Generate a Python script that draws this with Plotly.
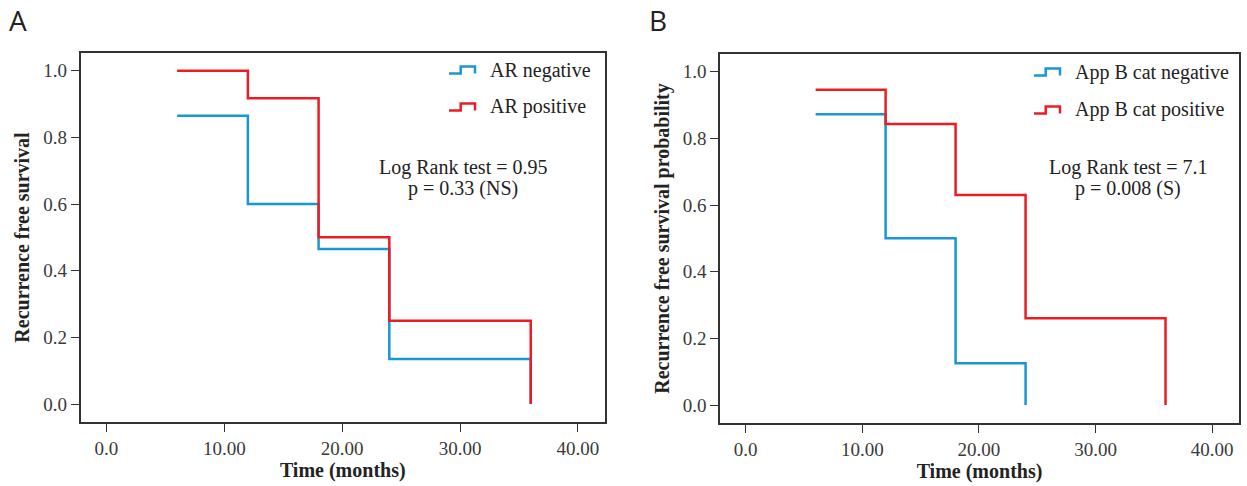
import plotly.graph_objects as go

# ---- data ----
time_a = [6, 12, 18, 24, 36]
ar_negative = [0.865, 0.600, 0.465, 0.135, 0.0]
ar_positive = [1.0, 0.917, 0.500, 0.250, 0.0]

time_b_neg = [6, 12, 18, 24]
appb_negative = [0.872, 0.500, 0.125, 0.0]
time_b_pos = [6, 12, 18, 24, 36]
appb_positive = [0.946, 0.843, 0.630, 0.260, 0.0]

x_tickvals = [0, 10, 20, 30, 40]
x_ticktext = ["0.0", "10.00", "20.00", "30.00", "40.00"]
y_tickvals = [0.0, 0.2, 0.4, 0.6, 0.8, 1.0]

BLUE = "#1a96d4"
RED = "#ed1c24"
AX = "#333333"
SERIF = "Liberation Serif"

W, H = 1247, 486
fig = go.Figure()

def add_curve(x, y, color, name, xa, ya):
    fig.add_trace(go.Scatter(x=x, y=y, mode="lines", line=dict(color=color, width=2.5, shape="hv"),
                             name=name, showlegend=False, xaxis=xa, yaxis=ya, hoverinfo="x+y+name"))

add_curve(time_a, ar_negative, BLUE, "AR negative", "x", "y")
add_curve(time_a, ar_positive, RED, "AR positive", "x", "y")
add_curve(time_b_neg, appb_negative, BLUE, "App B cat negative", "x2", "y2")
add_curve(time_b_pos, appb_positive, RED, "App B cat positive", "x2", "y2")

def px(x):
    return x / W

def py(y):
    return 1 - y / H

axis_common = dict(showline=True, mirror=True, linecolor=AX, linewidth=1.5, ticks="outside",
                   ticklen=8, tickwidth=1.2, tickcolor=AX, showgrid=False, zeroline=False,
                   tickfont=dict(family=SERIF, size=19, color="#3a3a3a"))

TITLE_FONT = dict(family=SERIF, size=20, color="#222")
xcommon = dict(axis_common, tickvals=x_tickvals, ticktext=x_ticktext, range=[-2.2, 42.3],
               title=dict(text="<b>Time (months)</b>", font=TITLE_FONT, standoff=2))
ycommon = dict(axis_common, tickvals=y_tickvals, tickformat=".1f", range=[-0.054, 1.053])

fig.update_layout(
    width=W, height=H, margin=dict(l=0, r=0, t=0, b=0),
    paper_bgcolor="white", plot_bgcolor="white",
    xaxis=dict(xcommon, domain=[px(80.5), px(605)], anchor="y"),
    yaxis=dict(ycommon, domain=[py(422), py(53)], anchor="x",
               title=dict(text="<b>Recurrence free survival</b>", font=TITLE_FONT, standoff=8)),
    xaxis2=dict(xcommon, domain=[px(720), px(1239)], anchor="y2"),
    yaxis2=dict(ycommon, domain=[py(423), py(54)], anchor="x2",
                title=dict(text="<b>Recurrence free survival probability</b>", font=TITLE_FONT, standoff=8)),
)

# custom legends with step icons
def legend_item(x0, yc, color, text):
    w, h = 26, 7
    path = (f"M {px(x0)},{py(yc + h/2)} L {px(x0 + w*0.45)},{py(yc + h/2)} L {px(x0 + w*0.45)},{py(yc - h/2)} "
            f"L {px(x0 + w)},{py(yc - h/2)} L {px(x0 + w)},{py(yc + h/2)}")
    fig.add_shape(type="path", path=path, xref="paper", yref="paper",
                  line=dict(color=color, width=2.5))
    fig.add_annotation(x=px(x0 + w + 13), y=py(yc), xref="paper", yref="paper", text=text,
                       showarrow=False, xanchor="left", yanchor="middle",
                       font=dict(family=SERIF, size=20, color="#222"))

legend_item(449, 70, BLUE, "AR negative")
legend_item(449, 107, RED, "AR positive")
legend_item(1034, 72, BLUE, "App B cat negative")
legend_item(1034, 110, RED, "App B cat positive")

def stat_text(xc, yc, text):
    fig.add_annotation(x=px(xc), y=py(yc), xref="paper", yref="paper", text=text, showarrow=False,
                       xanchor="center", yanchor="middle", align="center",
                       font=dict(family=SERIF, size=20, color="#222"))

stat_text(463, 167, "Log Rank test = 0.95")
stat_text(463, 188, "p = 0.33 (NS)")
stat_text(1128, 167, "Log Rank test = 7.1")
stat_text(1128, 189, "p = 0.008 (S)")

for lbl, xc in [("A", 18), ("B", 658)]:
    fig.add_annotation(x=px(xc), y=py(20), xref="paper", yref="paper", text=lbl, showarrow=False,
                       xanchor="center", yanchor="middle",
                       font=dict(family="Open Sans", size=28, color="#222"))

fig.write_html("out.html", post_script="document.body.style.margin='0';",
               config={"displayModeBar": False})
